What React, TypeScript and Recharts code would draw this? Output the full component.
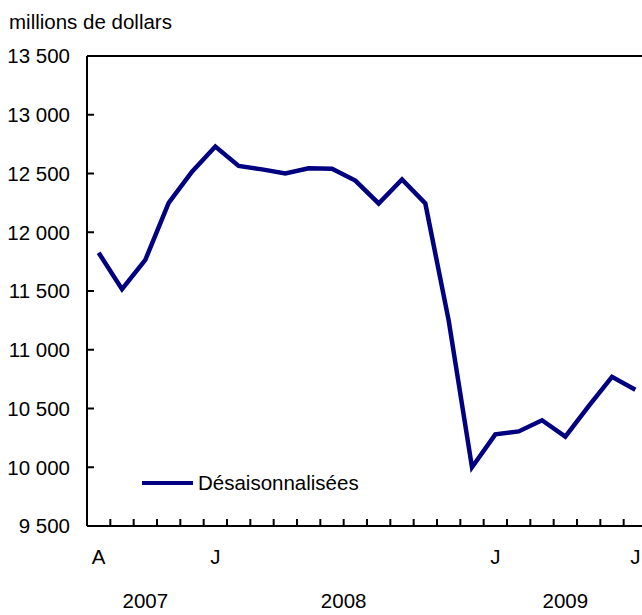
import { LineChart, Line, XAxis, YAxis, CartesianGrid } from 'recharts'

// months from Aug 2007 to Jul 2009
const periods = [
  '2007-08', '2007-09', '2007-10', '2007-11', '2007-12',
  '2008-01', '2008-02', '2008-03', '2008-04', '2008-05', '2008-06',
  '2008-07', '2008-08', '2008-09', '2008-10', '2008-11', '2008-12',
  '2009-01', '2009-02', '2009-03', '2009-04', '2009-05', '2009-06', '2009-07',
]

const values = [
  11825, 11515, 11765, 12250, 12515,
  12730, 12565, 12535, 12500, 12545, 12540,
  12440, 12245, 12450, 12245, 11250, 10000,
  10280, 10305, 10400, 10260, 10520, 10770, 10660,
]

const monthLetters = ['J', 'F', 'M', 'A', 'M', 'J', 'J', 'A', 'S', 'O', 'N', 'D']
const labelledPeriods = ['2007-08', '2008-01', '2009-01', '2009-07']
const yTicks = [9500, 10000, 10500, 11000, 11500, 12000, 12500, 13000, 13500]

const seriesName = 'Désaisonnalisées'
const unitLabel = 'millions de dollars'

const FONT = '"Liberation Sans", Arial, sans-serif'
const NAVY = '#000080'
const FS = 20.5

const data = periods.map((p, i) => ({ idx: i, period: p, value: values[i] }))

const xDomain: [number, number] = [-0.5, periods.length - 0.5]
const yDomain: [number, number] = [yTicks[0], yTicks[yTicks.length - 1]]
const boundaryTicks = periods.slice(1).map((_, i) => i + 0.5)
const monthTicks = labelledPeriods.map((p) => periods.indexOf(p))

const years = Array.from(new Set(periods.map((p) => p.slice(0, 4))))
const yearTicks = years.map((y) => {
  const idxs = periods.map((p, i) => (p.startsWith(y) ? i : -1)).filter((i) => i >= 0)
  return idxs.reduce((a, b) => a + b, 0) / idxs.length
})

const fmt = (v: number) => String(v).replace(/\B(?=(\d{3})+(?!\d))/g, ' ')

const axisStyle = { stroke: '#000', strokeWidth: 2 }
const tickText = { fill: '#000', fontSize: FS, fontFamily: FONT }
const noLabel = () => <g />

export default function App() {
  return (
    <div
      style={{
        position: 'absolute',
        left: 0,
        top: 0,
        width: 642,
        height: 615,
        overflow: 'hidden',
        background: '#fff',
        fontFamily: FONT,
      }}
    >
      <div style={{ position: 'absolute', left: 9, top: 10, fontSize: FS, color: '#000' }}>
        {unitLabel}
      </div>

      <LineChart
        width={660}
        height={615}
        data={data}
        margin={{ top: 55, right: 13, bottom: 0, left: 0 }}
      >
        {/* short dashes at the left edge act as inner y ticks */}
        <CartesianGrid
          xAxisId="ticks"
          vertical={false}
          stroke="#000"
          strokeWidth={2}
          strokeDasharray="7 2000"
        />
        {/* top frame line */}
        <XAxis
          xAxisId="top"
          orientation="top"
          dataKey="idx"
          type="number"
          domain={xDomain}
          height={1}
          tick={false}
          tickLine={false}
          axisLine={axisStyle}
        />
        {/* inside tick marks between months */}
        <XAxis
          xAxisId="ticks"
          dataKey="idx"
          type="number"
          domain={xDomain}
          mirror
          height={7}
          ticks={boundaryTicks}
          interval={0}
          tick={noLabel}
          tickSize={7}
          tickLine={axisStyle}
          axisLine={axisStyle}
        />
        <XAxis
          xAxisId="months"
          dataKey="idx"
          type="number"
          domain={xDomain}
          height={40}
          ticks={monthTicks}
          interval={0}
          tickLine={false}
          axisLine={false}
          tickSize={0}
          tickMargin={23.5}
          tick={tickText}
          tickFormatter={(v) => monthLetters[Number(periods[v].slice(5)) - 1]}
        />
        <XAxis
          xAxisId="years"
          dataKey="idx"
          type="number"
          domain={xDomain}
          height={49}
          ticks={yearTicks}
          interval={0}
          tickLine={false}
          axisLine={false}
          tickSize={0}
          tickMargin={27}
          tick={tickText}
          tickFormatter={(v) => years[yearTicks.indexOf(v)]}
        />
        <YAxis
          width={87}
          domain={yDomain}
          ticks={yTicks}
          interval={0}
          tickSize={0}
          tickMargin={17}
          tickLine={false}
          axisLine={axisStyle}
          tick={tickText}
          tickFormatter={fmt}
        />
        <Line
          xAxisId="ticks"
          type="linear"
          dataKey="value"
          name={seriesName}
          stroke={NAVY}
          strokeWidth={4.5}
          dot={false}
          isAnimationActive={false}
        />
      </LineChart>

      <div
        style={{
          position: 'absolute',
          left: 142,
          top: 471,
          display: 'flex',
          alignItems: 'center',
          fontSize: FS,
          color: '#000',
        }}
      >
        <span style={{ display: 'inline-block', width: 51, height: 4.5, background: NAVY }} />
        <span style={{ marginLeft: 5 }}>{seriesName}</span>
      </div>
    </div>
  )
}
